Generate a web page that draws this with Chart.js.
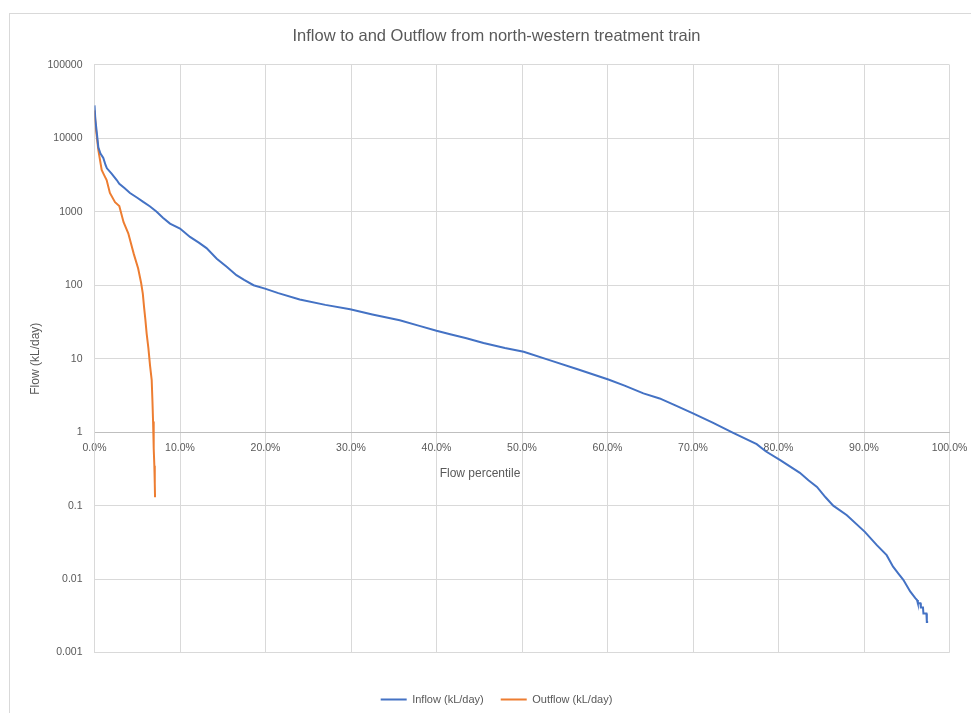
<!DOCTYPE html>
<html>
<head>
<meta charset="utf-8">
<script src="https://cdn.jsdelivr.net/npm/chart.js@4.4.1/dist/chart.umd.min.js"></script>
<style>
  html, body { margin: 0; padding: 0; background: #ffffff; overflow: hidden; }
  #wrap { position: relative; width: 971px; height: 713px; overflow: hidden; }
  #frame { position: absolute; left: 9px; top: 13px; width: 1000px; height: 800px; border: 1px solid #d9d9d9; }
  #chart { position: absolute; left: 0; top: 0; }
</style>
</head>
<body>
<div id="wrap">
  <div id="frame"></div>
  <canvas id="chart" width="971" height="713"></canvas>
</div>
<script>
// flow duration curves (x in %, flow in kL/day)
var inflowPct = [0, 0.1, 0.26, 0.45, 0.7, 1.03, 1.3, 1.45, 2.0, 2.6, 2.9, 3.5, 4.15, 5.0, 5.7, 6.5, 7.27, 8.0, 8.83, 10.0,
  11.17, 12.2, 13.1, 14.3, 15.46, 16.6, 17.5, 18.6, 19.94, 21.5, 24.0, 27.0, 29.9, 32.5, 35.7, 38.0, 40.0, 41.6, 43.5, 45.5,
  48.0, 50.2, 53.3, 56.5, 60.1, 62.0, 64.2, 66.1, 68.0, 70.0, 72.3, 74.7, 77.45, 78.5, 80.2, 82.5, 83.5, 84.5, 85.5, 86.4,
  88.0, 90.1, 91.5, 92.65, 93.4, 94.0, 94.6, 95.4, 96.0, 96.2, 96.3, 96.6, 96.65, 96.9, 96.95, 97.3, 97.35, 97.5];
var inflowFlow = [28000, 18000, 12200, 7500, 6200, 5400, 4300, 3900, 3300, 2700, 2400, 2100, 1800, 1550, 1360, 1180, 1000, 830, 690, 590,
  454, 380, 320, 230, 178, 137, 118, 100, 90, 78, 64, 54, 47, 40, 33.4, 28, 24, 21.5, 19, 16.4,
  14, 12.4, 9.5, 7.2, 5.2, 4.3, 3.37, 2.88, 2.3, 1.8, 1.35, 0.98, 0.687, 0.55, 0.417, 0.28, 0.222, 0.18, 0.13, 0.1,
  0.074, 0.044, 0.029, 0.0212, 0.0148, 0.012, 0.0098, 0.0068, 0.0055, 0.0052, 0.0047, 0.0047, 0.0041, 0.0041, 0.0034, 0.0034, 0.0026, 0.0026];

var outflowPct = [0, 0.18, 0.45, 0.84, 1.1, 1.42, 1.8, 2.4, 2.9, 3.4, 3.95, 4.6, 5.1, 5.45, 5.65, 5.8, 5.95, 6.1, 6.3, 6.5,
  6.69, 6.78, 6.85, 6.9, 6.95, 7.0, 7.05, 7.08];
var outflowFlow = [24000, 12900, 6900, 3700, 3200, 2700, 1800, 1350, 1200, 720, 510, 265, 170, 108, 77, 50, 34, 22, 14, 8,
  5.1, 2.6, 1.4, 0.95, 0.6, 0.35, 0.2, 0.13];

var seriesNames = ['Inflow (kL/day)', 'Outflow (kL/day)'];
var seriesColors = ['#4472c4', '#ed7d31'];
var xTicks = [0, 10, 20, 30, 40, 50, 60, 70, 80, 90, 100];
var yTicks = [0.001, 0.01, 0.1, 1, 10, 100, 1000, 10000, 100000];
var chartTitle = 'Inflow to and Outflow from north-western treatment train';
var xTitle = 'Flow percentile';
var yTitle = 'Flow (kL/day)';

function toPoints(xs, ys) {
  var pts = [];
  for (var i = 0; i < xs.length; i++) {
    pts.push({x: xs[i], y: ys[i]});
  }
  return pts;
}

Chart.defaults.font.family = "'Liberation Sans', Arial, sans-serif";
Chart.defaults.color = '#595959';

// x axis title sits under the labels, a bit left of centre like the original
var xTitlePlugin = {
  id: 'xTitle',
  afterDraw: function(chart) {
    var ctx = chart.ctx;
    ctx.save();
    ctx.font = "12px 'Liberation Sans', Arial, sans-serif";
    ctx.fillStyle = '#595959';
    ctx.textAlign = 'center';
    ctx.textBaseline = 'middle';
    ctx.fillText(xTitle, 480, 474);
    ctx.restore();
  }
};

var ctx = document.getElementById('chart');
new Chart(ctx, {
  type: 'line',
  data: {
    datasets: [{
      label: seriesNames[0],
      data: toPoints(inflowPct, inflowFlow),
      borderColor: seriesColors[0],
      backgroundColor: seriesColors[0],
      borderWidth: 2,
      pointRadius: 0,
      tension: 0
    }, {
      label: seriesNames[1],
      data: toPoints(outflowPct, outflowFlow),
      borderColor: seriesColors[1],
      backgroundColor: seriesColors[1],
      borderWidth: 2,
      pointRadius: 0,
      tension: 0
    }]
  },
  options: {
    responsive: false,
    animation: false,
    parsing: false,
    layout: {
      padding: {left: 43.5, right: 21.5, top: 10, bottom: -2}
    },
    scales: {
      x: {
        type: 'linear',
        axis: 'x',
        position: {y: 1},
        min: 0,
        max: 100,
        afterBuildTicks: function(scale) {
          scale.ticks = xTicks.map(function(v) { return {value: v}; });
        },
        afterFit: function(scale) {
          // let the end labels hang over, the plot keeps its full width
          scale.paddingLeft = 0;
          scale.paddingRight = 0;
        },
        ticks: {
          padding: 10,
          maxRotation: 0,
          font: {size: 10.5},
          callback: function(v) { return v.toFixed(1) + '%'; }
        },
        grid: {color: '#d9d9d9', drawTicks: false},
        border: {color: '#bfbfbf'}
      },
      y: {
        type: 'logarithmic',
        min: 0.001,
        max: 100000,
        afterBuildTicks: function(scale) {
          scale.ticks = yTicks.map(function(v) { return {value: v}; });
        },
        afterFit: function(scale) {
          scale.width = 51;
        },
        ticks: {
          padding: 12,
          font: {size: 10.5},
          callback: function(v) { return String(v); }
        },
        grid: {color: '#d9d9d9', drawTicks: false},
        border: {color: '#d9d9d9'},
        title: {
          display: true,
          text: yTitle,
          font: {size: 12},
          padding: {top: -15, bottom: 0}
        }
      }
    },
    plugins: {
      title: {
        display: true,
        text: chartTitle,
        color: '#595959',
        font: {family: "'Liberation Sans Narrow', 'Liberation Sans', sans-serif", size: 16.5, weight: 'normal'},
        padding: {top: 17, bottom: 18}
      },
      legend: {
        position: 'bottom',
        title: {display: true, text: '', padding: {top: 10, bottom: 0}},
        labels: {
          usePointStyle: true,
          pointStyle: 'line',
          pointStyleWidth: 26,
          padding: 17,
          font: {size: 11},
          color: '#595959'
        }
      },
      tooltip: {enabled: false}
    }
  },
  plugins: [xTitlePlugin]
});
</script>
</body>
</html>
